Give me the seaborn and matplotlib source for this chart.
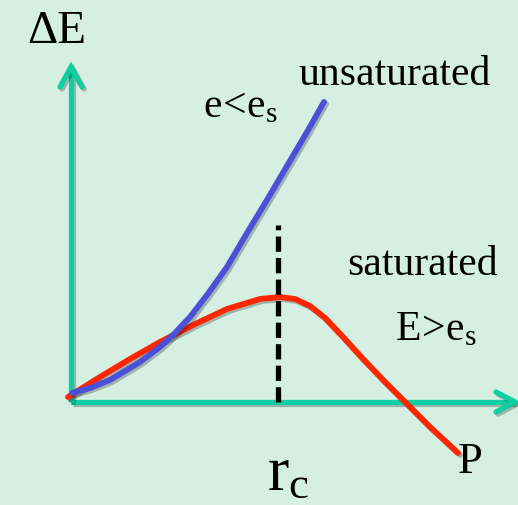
import matplotlib
matplotlib.use("Agg")
import matplotlib.pyplot as plt
import matplotlib.patheffects as pe
import seaborn as sns
import pandas as pd

# ======================================
# DATA (origin of the sketch at 0, 0)
# ======================================

blue_x = [2, 20, 40, 70, 90, 105, 120, 137, 157, 177, 197, 217, 237, 254]
blue_y = [9, 14, 22, 40, 55, 69, 85, 107, 135, 169, 202, 236, 270, 300]

red_x = [-2, 30, 60, 90, 123, 157, 190, 210, 225, 240, 255, 273, 293, 315, 337, 360, 388]
red_y = [5, 25, 43, 60, 77, 93, 103, 105, 103, 96, 84, 65, 43, 20, -2, -25, -51]

r_c = 208
r_c_top = 177

axis_x_end = 445
axis_y_end = 335

BG = "#D5EFE3"
TEAL = "#0FCFA2"
BLUE = "#4A50D8"
RED = "#FF2600"

sns.set_style("white", {"axes.facecolor": BG, "figure.facecolor": BG})
plt.rcParams["mathtext.fontset"] = "custom"
plt.rcParams["mathtext.rm"] = "Liberation Serif"
plt.rcParams["mathtext.it"] = "Liberation Serif:italic"
plt.rcParams["lines.scale_dashes"] = False

fig = plt.figure(figsize=(5.18, 5.05), dpi=100)
ax = fig.add_axes([0, 0, 1, 1])
ax.set_xlim(-70, 448)
ax.set_ylim(-103, 402)
ax.axis("off")

shadow = [pe.SimpleLineShadow(offset=(1.5, -1.5), alpha=0.25), pe.Normal()]

# axes with open arrow heads
ax.plot([1, axis_x_end], [0, 0], color=TEAL, lw=3.8,
        solid_capstyle="butt", path_effects=shadow)
ax.plot([1, 1], [0, axis_y_end], color=TEAL, lw=3.8,
        solid_capstyle="butt", path_effects=shadow)
ax.plot([axis_x_end - 19, axis_x_end, axis_x_end - 19], [10, 0, -10],
        color=TEAL, lw=3.8, solid_capstyle="round", solid_joinstyle="miter",
        path_effects=shadow)
ax.plot([-10, 1, 12], [axis_y_end - 20, axis_y_end, axis_y_end - 20],
        color=TEAL, lw=3.8, solid_capstyle="round", solid_joinstyle="miter",
        path_effects=shadow)

# curves
blue_df = pd.DataFrame({"r": blue_x, "dE": blue_y})
red_df = pd.DataFrame({"r": red_x, "dE": red_y})

sns.lineplot(data=red_df, x="r", y="dE", sort=False, estimator=None,
             color=RED, lw=4.2, ax=ax, path_effects=shadow,
             solid_joinstyle="round")
sns.lineplot(data=blue_df, x="r", y="dE", sort=False, estimator=None,
             color=BLUE, lw=4.2, ax=ax, path_effects=shadow,
             solid_joinstyle="round")

# critical radius
ax.plot([r_c, r_c], [0, r_c_top], color="black", lw=3.8,
        dashes=(11, 4.5), solid_capstyle="butt")

# labels
serif = "Liberation Serif"
ax.text(-43, 359, "ΔE", fontsize=34, family=serif, va="baseline", color="black")
ax.text(228, 317, "unsaturated", fontsize=30, family=serif, va="baseline", color="black")
ax.text(133, 285, r"$\mathrm{e\!<\!e_s}$", fontsize=30, va="baseline", color="black")
ax.text(277, 127, "saturated", fontsize=30, family=serif, va="baseline", color="black")
ax.text(325, 62, r"$\mathrm{E\!>\!e_s}$", fontsize=30, va="baseline", color="black")
ax.text(388, -71, "P", fontsize=32, family=serif, va="baseline", color="black")
ax.text(197, -88, r"$\mathrm{r_c}$", fontsize=46, va="baseline", color="black")

fig.savefig("out.png", dpi=100, facecolor=BG)
